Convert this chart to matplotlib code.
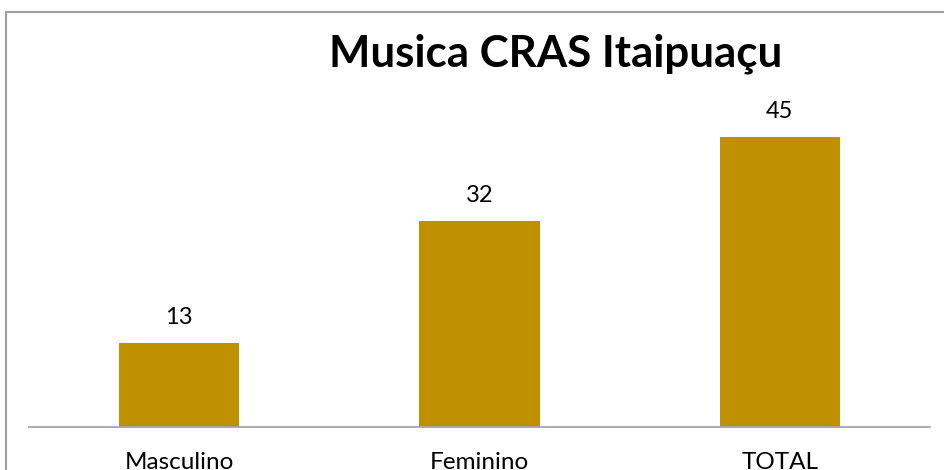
import matplotlib
matplotlib.use("Agg")
import matplotlib.pyplot as plt
from matplotlib.lines import Line2D

categories = ["Masculino", "Feminino", "TOTAL"]
values = [13, 32, 45]
title = "Musica CRAS Itaipuaçu"
bar_color = "#BF9000"

plt.rcParams['font.family'] = ['Lato', 'DejaVu Sans']

W, H = 945, 470
fig = plt.figure(figsize=(W / 100, H / 100), dpi=100)
ax = fig.add_axes([29 / W, 43 / H, (930 - 29) / W, 0.8])

x = list(range(len(categories)))
ax.bar(x, values, width=0.4, color=bar_color, zorder=2)
ax.set_xlim(-0.5, len(categories) - 0.5)
ax.set_ylim(0, 0.8 * H / 6.45)

px = 72 / 100  # points per pixel
for xi, v in zip(x, values):
    ax.annotate(str(v), (xi, v), xytext=(0, 19 * px), textcoords="offset points",
                ha="center", va="baseline", fontsize=17, color="#000000")
    ax.annotate(categories[xi], (xi, 0), xytext=(0, -42 * px), textcoords="offset points",
                ha="center", va="baseline", fontsize=17.5, color="#000000",
                annotation_clip=False)

for s in ["top", "right", "left"]:
    ax.spines[s].set_visible(False)
ax.spines["bottom"].set_color("#a6a6a6")
ax.spines["bottom"].set_linewidth(1.3)
ax.set_yticks([])
ax.set_xticks([])

fig.text(556 / W, 1 - 67 / H, title, ha="center", va="baseline",
         fontsize=31.6, fontweight="bold", color="#000000")

# chart border (top and left visible, rest cropped)
fig.add_artist(Line2D([6.5 / W, 6.5 / W], [0, 1 - 11.5 / H], transform=fig.transFigure,
                      color="#a0a0a0", linewidth=1.5))
fig.add_artist(Line2D([6.5 / W, 1], [1 - 11.5 / H, 1 - 11.5 / H], transform=fig.transFigure,
                      color="#a0a0a0", linewidth=1.5))

fig.savefig("out.png", dpi=100)
